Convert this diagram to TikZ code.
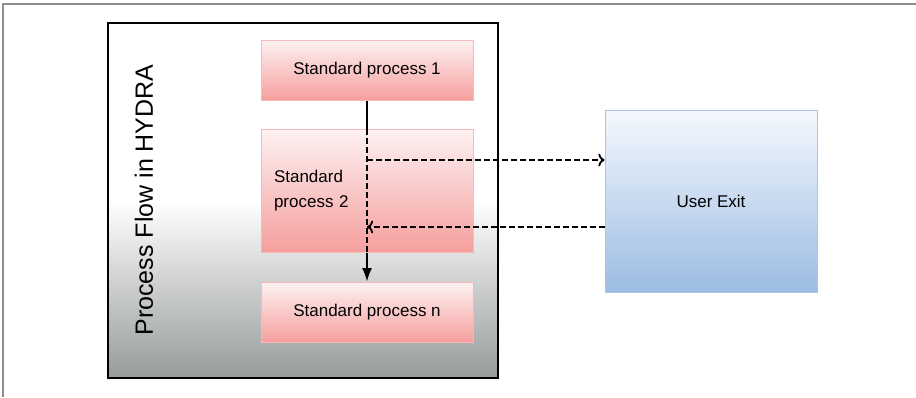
\documentclass[tikz,border=0pt]{standalone}
\usepackage{fontspec}
\setmainfont{Liberation Sans}
\usetikzlibrary{arrows.meta, positioning, calc}

\definecolor{pinktop}{HTML}{FDF1F1}
\definecolor{pinkbot}{HTML}{F59F9E}
\definecolor{pinkline}{HTML}{F7B8B8}
\definecolor{bluetop}{HTML}{F4F8FD}
\definecolor{bluebot}{HTML}{9CBCE3}
\definecolor{blueline}{HTML}{A9C6EA}
\definecolor{hydrabot}{HTML}{979B9B}
\definecolor{framegray}{HTML}{8E8E8E}

\begin{document}
\begin{tikzpicture}[
        x = 1pt, y = -1pt,
        node distance = 121pt,
        on grid,
        >= {Latex[scale = 1.2]},
        every node/.style = {font = \fontsize{17}{25}\selectfont},
        hydra/.style = {draw = black, line width = 1.5pt, top color = white, bottom color = hydrabot, middle color = white, minimum width = 390pt, minimum height = 355pt, inner sep = 0pt},
        stdproc/.style = {draw = pinkline, line width = 1pt, top color = pinktop, bottom color = pinkbot, minimum width = 212pt, minimum height = 60pt, inner sep = 0pt},
        userexit/.style = {draw = blueline, line width = 1pt, top color = bluetop, bottom color = bluebot, minimum width = 212pt, minimum height = 182pt, inner sep = 0pt},
        flow/.style = {line width = 1.8pt},
        callout/.style = {line width = 1.8pt, dash pattern = on 6pt off 3pt, -{To[scale = 1.1]}}
    ]

    \useasboundingbox (0,0) rectangle (916,397);
    \draw[framegray, line width = 1.3pt] (3,397) -- (3,4) -- (916,4);

    % HYDRA frame with its standard steps
    \node[hydra] (frame) at (303,200.5) {};
    \node[rotate = 90, font = \fontsize{25}{30}\selectfont] (title) at (144,200) {Process Flow in HYDRA};

    \node[stdproc] (p1) at (367,70) {Standard process 1};
    \node[stdproc, minimum height = 123pt, text width = 186pt, inner xsep = 13pt, align = left] (p2) [below = of p1] {Standard\\process 2};
    \node[stdproc] (pn) [below = of p2] {Standard process n};

    \node[userexit] (exit) at (711,201) {User Exit};

    % jump out to the user exit and back
    \coordinate (out) at ($(p2.north)!0.25!(p2.south)$);
    \coordinate (back) at ($(p2.north)!0.79!(p2.south)$);

    \draw[flow] (p1) -- (p2);
    \draw[flow, ->] (p2) -- (pn);
    \draw[callout, -] (p2.north) -- (p2.south);
    \draw[callout] (out) -- (out -| exit.west);
    \draw[callout] (back -| exit.west) -- (back);

\end{tikzpicture}
\end{document}
